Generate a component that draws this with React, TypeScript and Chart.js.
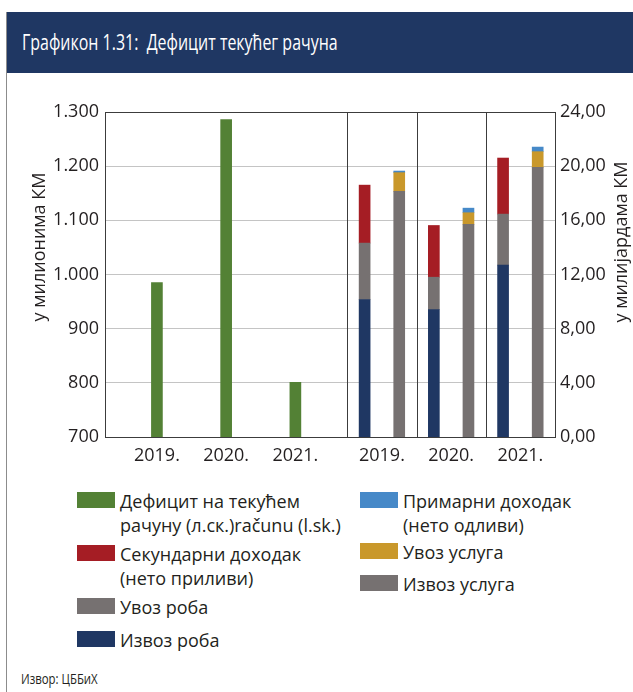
import React, { useEffect, useRef } from 'react';
import { Chart, registerables } from 'chart.js';

Chart.register(...registerables);

// ---------- data ----------
const leftYears = ['2019.', '2020.', '2021.'];
const rightYears = ['2019.', '2020.', '2021.'];
const deficitMln = [985, 1286, 801]; // left axis, millions KM
const goodsExports = [10.15, 9.41, 12.69]; // right axis, billions KM
const goodsImports = [4.17, 2.39, 3.77];
const secondaryIncome = [4.28, 3.82, 4.14];
const servicesExports = [18.14, 15.7, 19.91];
const servicesImports = [1.38, 0.86, 1.16];
const primaryIncome = [0.12, 0.34, 0.34];
const leftTicks = [700, 800, 900, 1000, 1100, 1200, 1300];
const rightTicks = [0, 4, 8, 12, 16, 20, 24];

const seriesNames = {
  deficit: 'Дефицит на текућем\nрачуну (л.ск.)računu (l.sk.)',
  secondary: 'Секундарни доходак\n(нето приливи)',
  goodsImp: 'Увоз роба',
  goodsExp: 'Извоз роба',
  primary: 'Примарни доходак\n(нето одливи)',
  servImp: 'Увоз услуга',
  servExp: 'Извоз услуга',
};
const seriesColors = {
  deficit: '#538135',
  secondary: '#a51d24',
  goodsImp: '#767171',
  goodsExp: '#1f3763',
  primary: '#4689c8',
  servImp: '#c9982b',
  servExp: '#767171',
};

const titleText = 'Графикон 1.31:  Дефицит текућег рачуна';
const leftAxisTitle = 'у милионима КМ';
const rightAxisTitle = 'у милијардама КМ';
const sourceText = 'Извор: ЦББиХ';

// ---------- layout helpers (slot positions on a 13-slot linear axis) ----------
const leftX = (i: number) => 1.5 + 2 * i;
const pairLeftX = (i: number) => 7.5 + 2 * i;
const pairRightX = (i: number) => 8.5 + 2 * i;
const pairLabelX = (i: number) => 8 + 2 * i;
const separatorX = [7, 9, 11];

const xTickPositions = [...leftYears.map((_, i) => leftX(i)), ...rightYears.map((_, i) => pairLabelX(i))];
const xTickLabels = [...leftYears, ...rightYears];

const TICK_FONT = { family: '"Open Sans", sans-serif', size: 18 };
const DARK = '#3c3c3c';

const fmtLeft = (v: number) =>
  v >= 1000 ? Math.floor(v / 1000) + '.' + String(v % 1000).padStart(3, '0') : String(v);
const fmtRight = (v: number) => v.toFixed(2).replace('.', ',');

const framePlugin = {
  id: 'framePlugin',
  beforeDatasetsDraw(chart: any) {
    const { ctx, chartArea, scales } = chart;
    ctx.save();
    ctx.strokeStyle = DARK;
    ctx.lineWidth = 1;
    separatorX.forEach((v) => {
      const x = Math.round(scales.x.getPixelForValue(v)) + 0.5;
      ctx.beginPath();
      ctx.moveTo(x, chartArea.top);
      ctx.lineTo(x, chartArea.bottom);
      ctx.stroke();
    });
    ctx.restore();
  },
  afterDraw(chart: any) {
    const { ctx } = chart;
    const drawTitle = (text: string, x: number, y: number) => {
      ctx.save();
      ctx.fillStyle = '#231f20';
      ctx.font = '18px "Open Sans", sans-serif';
      ctx.textAlign = 'center';
      ctx.textBaseline = 'middle';
      ctx.translate(x, y);
      ctx.rotate(-Math.PI / 2);
      ctx.fillText(text, 0, 0);
      ctx.restore();
    };
    drawTitle(leftAxisTitle, 40, 167);
    drawTitle(rightAxisTitle, 622, 162);
  },
};

function ChartCanvas() {
  const ref = useRef<HTMLCanvasElement | null>(null);
  useEffect(() => {
    if (!ref.current) return;
    const bar = (key: keyof typeof seriesColors, axis: string, xs: number[], ys: number[]) => ({
      label: seriesNames[key].replace('\n', ' '),
      data: ys.map((y, i) => ({ x: xs[i], y })),
      backgroundColor: seriesColors[key],
      yAxisID: axis,
      barThickness: 11,
      grouped: false,
      borderWidth: 0,
    });
    const idx = [0, 1, 2];
    const chart = new Chart(ref.current, {
      type: 'bar',
      data: {
        datasets: [
          bar('deficit', 'y', idx.map(leftX), deficitMln),
          bar('goodsExp', 'y1', idx.map(pairLeftX), goodsExports),
          bar('goodsImp', 'y1', idx.map(pairLeftX), goodsImports),
          bar('secondary', 'y1', idx.map(pairLeftX), secondaryIncome),
          bar('servExp', 'y1', idx.map(pairRightX), servicesExports),
          bar('servImp', 'y1', idx.map(pairRightX), servicesImports),
          bar('primary', 'y1', idx.map(pairRightX), primaryIncome),
        ] as any,
      },
      options: {
        responsive: false,
        animation: false,
        layout: { padding: { top: 32, bottom: 0, left: 0, right: 0 } },
        plugins: { legend: { display: false }, tooltip: { enabled: false } },
        scales: {
          x: {
            type: 'linear',
            min: 0,
            max: 13,
            offset: false,
            grid: { display: false, drawTicks: false, offset: false },
            border: { display: true, color: DARK, width: 1 },
            afterBuildTicks: (s: any) => {
              s.ticks = xTickPositions.map((v) => ({ value: v }));
            },
            afterFit: (s: any) => {
              s.height = 33;
            },
            ticks: {
              autoSkip: false,
              maxRotation: 0,
              padding: 8,
              color: '#231f20',
              font: TICK_FONT,
              callback: (_v: any, i: number) => xTickLabels[i],
            },
          },
          y: {
            position: 'left',
            min: 700,
            max: 1300,
            afterBuildTicks: (s: any) => {
              s.ticks = leftTicks.map((v) => ({ value: v }));
            },
            afterFit: (s: any) => {
              s.width = 105;
            },
            grid: {
              drawTicks: false,
              color: (c: any) => (c.tick && c.tick.value === 1300 ? DARK : '#c4c4c4'),
              lineWidth: 1,
            },
            border: { display: true, color: DARK, width: 1 },
            ticks: {
              padding: 6,
              color: '#231f20',
              font: TICK_FONT,
              callback: (v: any) => fmtLeft(Number(v)),
            },
          },
          y1: {
            position: 'right',
            min: 0,
            max: 24,
            stacked: true,
            afterBuildTicks: (s: any) => {
              s.ticks = rightTicks.map((v) => ({ value: v }));
            },
            afterFit: (s: any) => {
              s.width = 78;
            },
            grid: { display: false, drawTicks: false },
            border: { display: true, color: DARK, width: 1 },
            ticks: {
              padding: 5,
              color: '#231f20',
              font: TICK_FONT,
              callback: (v: any) => fmtRight(Number(v)),
            },
          },
        } as any,
      },
      plugins: [framePlugin],
    });
    return () => chart.destroy();
  }, []);
  return (
    <canvas
      ref={ref}
      width={633}
      height={390}
      style={{ position: 'absolute', left: 0, top: 80, width: 633, height: 390 }}
    />
  );
}

type LegendItem = { key: keyof typeof seriesColors; left: number; top: number };
const legendLayout: LegendItem[] = [
  { key: 'deficit', left: 77, top: 492 },
  { key: 'secondary', left: 77, top: 545 },
  { key: 'goodsImp', left: 77, top: 598 },
  { key: 'goodsExp', left: 77, top: 631 },
  { key: 'primary', left: 360, top: 492 },
  { key: 'servImp', left: 360, top: 543 },
  { key: 'servExp', left: 360, top: 575 },
];

export default function App() {
  return (
    <div
      style={{
        position: 'absolute',
        left: 0,
        top: 0,
        width: 633,
        height: 692,
        background: '#ffffff',
        overflow: 'hidden',
        fontFamily: '"Open Sans", sans-serif',
        color: '#231f20',
      }}
    >
      <div style={{ position: 'absolute', left: 6, top: 12, width: 627, height: 61, background: '#1f3763' }} />
      <div
        style={{
          position: 'absolute',
          left: 22,
          top: 12,
          height: 61,
          lineHeight: '61px',
          color: '#ffffff',
          fontFamily: '"Open Sans", sans-serif',
          fontSize: 21,
          whiteSpace: 'pre',
          transform: 'scaleX(0.76)',
          transformOrigin: 'left center',
        }}
      >
        {titleText}
      </div>
      <div style={{ position: 'absolute', left: 6, top: 12, width: 1, height: 680, background: '#8c8c8c' }} />
      <ChartCanvas />
      {legendLayout.map((it) => (
        <div key={it.key} style={{ position: 'absolute', left: it.left, top: it.top }}>
          <div style={{ position: 'absolute', left: 0, top: 0, width: 38, height: 16, background: seriesColors[it.key] }} />
          <div
            style={{
              position: 'absolute',
              left: 43,
              top: -3,
              fontSize: 18,
              lineHeight: '24px',
              whiteSpace: 'pre',
            }}
          >
            {seriesNames[it.key]}
          </div>
        </div>
      ))}
      <div
        style={{
          position: 'absolute',
          left: 21,
          top: 668,
          lineHeight: '20px',
          fontSize: 15,
          fontFamily: '"Open Sans", sans-serif',
          whiteSpace: 'pre',
          transform: 'scaleX(0.76)',
          transformOrigin: 'left center',
        }}
      >
        {sourceText}
      </div>
    </div>
  );
}
